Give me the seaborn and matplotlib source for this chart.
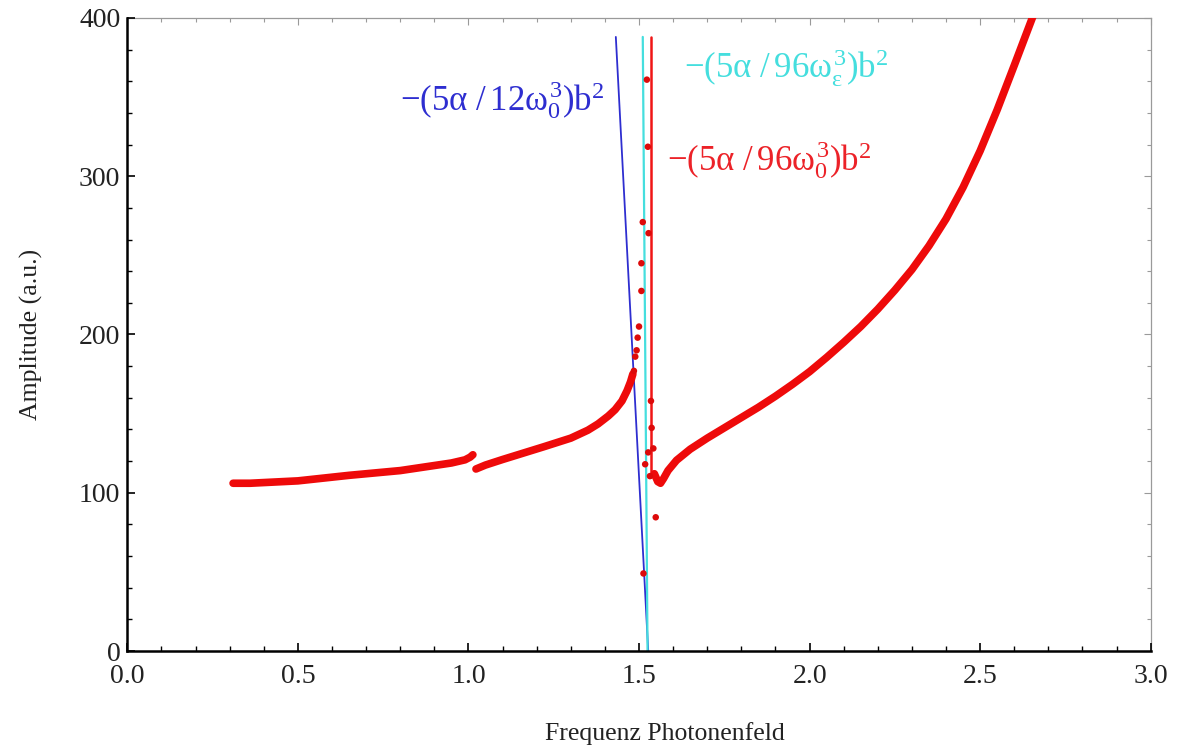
import matplotlib
matplotlib.use("Agg")
import matplotlib.pyplot as plt
import numpy as np
import pandas as pd
import seaborn as sns
from matplotlib.ticker import MultipleLocator

sns.set_theme(style="white")
plt.rcParams['font.family'] = ['Liberation Serif', 'DejaVu Serif']
plt.rcParams['mathtext.fontset'] = 'custom'
plt.rcParams['mathtext.rm'] = 'Liberation Serif'
plt.rcParams['mathtext.it'] = 'Liberation Serif'
plt.rcParams['mathtext.bf'] = 'Liberation Serif:bold'

# ---- data ----
left_x = [0.31, 0.36, 0.50, 0.65, 0.80, 0.95, 0.99, 1.005, 1.013]
left_y = [106, 106, 107.5, 111, 114, 118.8, 120.8, 122.5, 124]

mid_x = [1.022, 1.05, 1.10, 1.16, 1.22, 1.30, 1.35, 1.38, 1.41, 1.43, 1.45, 1.465, 1.475, 1.482]
mid_y = [115, 117.5, 121, 125, 129, 134.5, 139.5, 143.5, 148.5, 152.5, 158, 164.5, 170, 175]

right_x = [1.545, 1.555, 1.563, 1.572, 1.585, 1.61, 1.65, 1.70, 1.75, 1.80, 1.85, 1.90,
           1.95, 2.00, 2.05, 2.10, 2.15, 2.20, 2.25, 2.30, 2.35, 2.40, 2.45, 2.50,
           2.55, 2.60, 2.66]
right_y = [112, 107, 106, 109, 114, 120.5, 127.5, 134.5, 141, 147.5, 154, 161,
           168.5, 176.5, 185.5, 195, 205, 216, 228, 241, 256, 273, 293, 316,
           342, 370, 404]

scatter_x = [1.485, 1.489, 1.493, 1.496, 1.500, 1.507, 1.507, 1.511, 1.523, 1.526, 1.528,
             1.535, 1.537, 1.542, 1.527, 1.518, 1.532, 1.549, 1.513]
scatter_y = [177, 186, 190, 198, 205, 227.5, 245, 271, 361, 318.6, 264,
             158, 141, 128, 125.5, 118, 110.5, 84.5, 49]

blue_x, blue_y = [1.432, 1.527], [388, 0]
cyan_x, cyan_y = [1.511, 1.525], [388, 0]
red_x, red_y = [1.535, 1.535], [388, 110]

x_ticks = [0.0, 0.5, 1.0, 1.5, 2.0, 2.5, 3.0]
y_ticks = [0, 100, 200, 300, 400]

RED = '#ee0a0a'
BLUE = '#2e2ed0'
CYAN = '#45dede'
RED_TXT = '#ec2228'

fig = plt.figure(figsize=(11.79, 7.47), dpi=100)
ax = fig.add_axes([0.108, 0.1285, 0.868, 0.8475])

# reference lines
sns.lineplot(x=blue_x, y=blue_y, ax=ax, color=BLUE, lw=1.3, sort=False, estimator=None)
sns.lineplot(x=cyan_x, y=cyan_y, ax=ax, color=CYAN, lw=1.6, sort=False, estimator=None)
sns.lineplot(x=red_x, y=red_y, ax=ax, color='#f01515', lw=1.8, sort=False, estimator=None)

# main curve (dense dots -> thick line)
for xs, ys in [(left_x, left_y), (mid_x, mid_y), (right_x, right_y)]:
    sns.lineplot(x=xs, y=ys, ax=ax, color=RED, lw=5.5, sort=False, estimator=None,
                 solid_capstyle='round', solid_joinstyle='round')

sns.scatterplot(x=scatter_x, y=scatter_y, ax=ax, color='#dd0a0a', s=22,
                edgecolor='none', zorder=5)

ax.set_xlim(0, 3)
ax.set_ylim(0, 400)
ax.set_xticks(x_ticks)
ax.set_yticks(y_ticks)
ax.set_xticklabels([f"{v:.1f}" for v in x_ticks])
ax.set_yticklabels([str(v) for v in y_ticks])
ax.xaxis.set_minor_locator(MultipleLocator(0.1))
ax.yaxis.set_minor_locator(MultipleLocator(20))
ax.tick_params(axis='both', which='major', direction='in', length=6, width=1.2,
               color='black', labelsize=20, labelcolor='#222222')
ax.tick_params(axis='x', which='major', pad=9)
ax.tick_params(axis='y', which='major', pad=5)
ax.tick_params(axis='both', which='minor', direction='in', length=3.5, width=1.0,
               color='black')
ax.tick_params(bottom=True, left=True, top=False, right=False, which='both')

for side in ['left', 'bottom']:
    ax.spines[side].set_color('black')
    ax.spines[side].set_linewidth(1.8)
for side in ['top', 'right']:
    ax.spines[side].set_visible(False)

secx = ax.secondary_xaxis('top')
secx.set_xticks(x_ticks)
secx.xaxis.set_minor_locator(MultipleLocator(0.1))
secx.tick_params(axis='x', which='both', direction='in', color='#9a9a9a',
                 labeltop=False, length=5, width=0.8)
secx.tick_params(axis='x', which='minor', length=3)
secx.spines['top'].set_color('#9a9a9a')
secx.spines['top'].set_linewidth(0.9)

secy = ax.secondary_yaxis('right')
secy.set_yticks(y_ticks)
secy.yaxis.set_minor_locator(MultipleLocator(20))
secy.tick_params(axis='y', which='both', direction='in', color='#9a9a9a',
                 labelright=False, length=5, width=0.8)
secy.tick_params(axis='y', which='minor', length=3)
secy.spines['right'].set_color('#9a9a9a')
secy.spines['right'].set_linewidth(0.9)

ax.set_xlabel('Frequenz Photonenfeld', fontsize=18.5, color='#222222')
ax.xaxis.set_label_coords(0.525, -0.112)
ax.set_ylabel('Amplitude (a.u.)', fontsize=18.5, color='#222222')
ax.yaxis.set_label_coords(-0.082, 0.5)

ax.text(1.10, 348, r'$-(5\alpha\ /\,12\omega_0^3)\mathrm{b}^2$', color=BLUE, fontsize=25,
        ha='center', va='center')
ax.text(1.93, 368, r'$-(5\alpha\ /\,96\omega_\varepsilon^3)\mathrm{b}^2$', color=CYAN, fontsize=25,
        ha='center', va='center')
ax.text(1.88, 310, r'$-(5\alpha\ /\,96\omega_0^3)\mathrm{b}^2$', color=RED_TXT, fontsize=25,
        ha='center', va='center')

fig.savefig('out.png', dpi=100)
